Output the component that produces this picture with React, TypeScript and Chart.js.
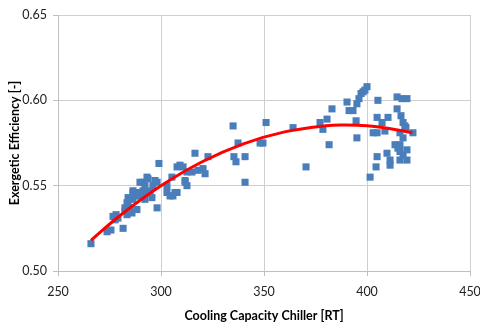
import React, { useEffect, useRef } from "react";
import { Chart, registerables } from "chart.js";

Chart.register(...registerables);

// Measured points: cooling capacity [RT] and exergetic efficiency [-]
const capacityRT = [
  266.0, 273.8, 275.7, 276.7, 277.7, 278.2, 279.1, 281.6, 282.5, 282.5,
  283.5, 283.5, 284.0, 284.0, 285.0, 285.9, 286.4, 286.4, 286.4, 288.3,
  288.3, 288.8, 289.8, 289.8, 291.3, 291.3, 292.2, 292.2, 292.2, 293.2,
  293.7, 294.7, 295.6, 296.1, 297.1, 298.1, 298.1, 299.0, 302.9, 302.9,
  304.4, 305.3, 305.8, 306.8, 307.8, 307.8, 309.2, 310.7, 311.7, 311.7,
  312.6, 312.6, 315.0, 316.5, 318.0, 320.4, 321.4, 322.8, 335.0, 335.4,
  336.4, 337.4, 340.8, 340.8, 348.1, 349.5, 351.0, 364.1, 370.4, 377.2,
  378.6, 380.6, 381.6, 383.0, 390.3, 391.3, 393.2, 394.7, 395.1, 395.1,
  396.1, 397.1, 398.1, 399.0, 400.0, 401.5, 403.0, 404.4, 404.9, 404.9,
  404.9, 405.3, 407.3, 408.7, 409.7, 410.2, 411.2, 411.2, 413.6, 414.6,
  414.6, 415.0, 416.0, 416.0, 416.0, 416.0, 416.5, 417.0, 417.5, 417.5,
  417.5, 418.4, 418.9, 419.4, 419.4, 419.4, 422.3,
];
const efficiency = [
  0.516, 0.523, 0.524, 0.532, 0.530, 0.533, 0.531, 0.525, 0.535, 0.537,
  0.533, 0.540, 0.543, 0.539, 0.537, 0.534, 0.542, 0.546, 0.547, 0.536,
  0.544, 0.546, 0.544, 0.552, 0.552, 0.547, 0.546, 0.542, 0.550, 0.555,
  0.554, 0.547, 0.543, 0.550, 0.553, 0.537, 0.552, 0.563, 0.550, 0.546,
  0.544, 0.555, 0.544, 0.546, 0.561, 0.546, 0.562, 0.561, 0.552, 0.553,
  0.550, 0.558, 0.558, 0.569, 0.559, 0.560, 0.557, 0.567, 0.585, 0.567,
  0.564, 0.575, 0.567, 0.552, 0.575, 0.575, 0.587, 0.584, 0.561, 0.587,
  0.583, 0.589, 0.574, 0.595, 0.599, 0.594, 0.594, 0.588, 0.598, 0.578,
  0.601, 0.604, 0.605, 0.606, 0.608, 0.555, 0.581, 0.561, 0.567, 0.581,
  0.590, 0.600, 0.587, 0.582, 0.569, 0.590, 0.565, 0.562, 0.574, 0.602,
  0.595, 0.572, 0.581, 0.574, 0.570, 0.565, 0.591, 0.601, 0.587, 0.578,
  0.568, 0.585, 0.584, 0.601, 0.571, 0.565, 0.581,
];

// Trendline
const trendX = [266, 280, 300, 320, 340, 360, 380, 390, 400, 410, 422];
const trendY = [0.518, 0.5324, 0.5499, 0.564, 0.5745, 0.5815, 0.5851, 0.5855, 0.5851, 0.5837, 0.581];

const xTicks = [250, 300, 350, 400, 450];
const yTicks = [0.5, 0.55, 0.6, 0.65];

export default function App() {
  const ref = useRef<HTMLCanvasElement | null>(null);

  useEffect(() => {
    if (!ref.current) return;
    const font = "Lato, 'Open Sans', sans-serif";
    const chart = new Chart(ref.current, {
      type: "scatter",
      data: {
        datasets: [
          {
            type: "line",
            label: "trend",
            data: trendX.map((x, i) => ({ x, y: trendY[i] })),
            borderColor: "#ff0000",
            borderWidth: 3,
            pointRadius: 0,
            tension: 0.4,
            fill: false,
            order: 0,
          },
          {
            type: "scatter",
            label: "data",
            data: capacityRT.map((x, i) => ({ x, y: efficiency[i] })),
            backgroundColor: "#4a7ebb",
            borderColor: "#4a7ebb",
            borderWidth: 0,
            pointStyle: "rect",
            pointRadius: 5,
            order: 1,
          },
        ],
      },
      options: {
        animation: false,
        responsive: false,
        layout: { padding: { top: 15, right: 10, bottom: 0, left: 3 } },
        plugins: { legend: { display: false }, tooltip: { enabled: false } },
        scales: {
          x: {
            type: "linear",
            min: 250,
            max: 450,
            afterBuildTicks: (s: any) => {
              s.ticks = xTicks.map((v) => ({ value: v }));
            },
            afterFit: (s: any) => {
              s.height = 52;
              s.paddingRight = 0;
              s.paddingLeft = 0;
            },
            grid: { color: "#cfcfcf", tickLength: 5, tickColor: "#bfbfbf" },
            border: { color: "#bfbfbf" },
            ticks: {
              padding: 8,
              color: "#222",
              font: { family: font, size: 12.5 },
              callback: (v: any) => String(v),
            },
            title: {
              display: true,
              text: "Cooling Capacity Chiller [RT]",
              color: "#000",
              font: { family: font, size: 12.5, weight: "bold" },
              padding: { top: 12, bottom: 0 },
            },
          },
          y: {
            type: "linear",
            min: 0.5,
            max: 0.65,
            afterBuildTicks: (s: any) => {
              s.ticks = yTicks.map((v) => ({ value: v }));
            },
            afterFit: (s: any) => {
              s.width = 55;
            },
            grid: { color: "#cfcfcf", tickLength: 5, tickColor: "#bfbfbf" },
            border: { color: "#bfbfbf" },
            ticks: {
              padding: 6,
              color: "#222",
              font: { family: font, size: 12.5 },
              callback: (v: any) => Number(v).toFixed(2),
            },
            title: {
              display: true,
              text: "Exergetic Efficiency [-]",
              color: "#000",
              font: { family: font, size: 12.5, weight: "bold" },
              padding: { top: 4, bottom: 0 },
            },
          },
        },
      },
    });
    return () => chart.destroy();
  }, []);

  return (
    <div style={{ position: "fixed", left: 0, top: 0, width: 480, height: 323, background: "#fff" }}>
      <canvas ref={ref} width={480} height={323} />
    </div>
  );
}
